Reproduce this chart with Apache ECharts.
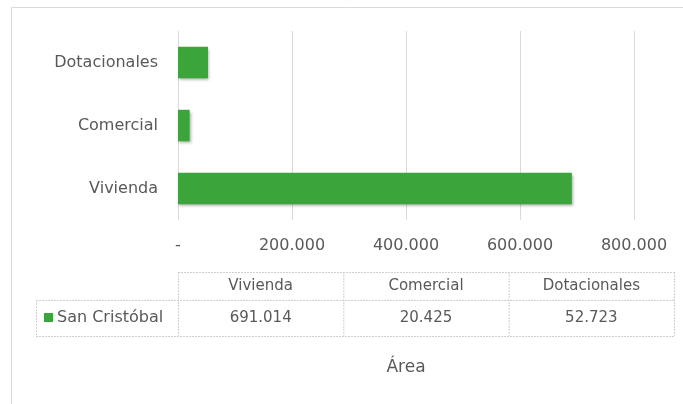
<!DOCTYPE html>
<html><head><meta charset="utf-8">
<script src="https://cdn.jsdelivr.net/npm/echarts@6/dist/echarts.min.js"></script>
<style>html,body{margin:0;padding:0;background:#fff}#c{width:683px;height:404px}</style>
</head><body><div id="c"></div>
<script>
var categories = ['Vivienda', 'Comercial', 'Dotacionales'];
var seriesName = 'San Cristóbal';
var values = [691014, 20425, 52723];
var axisTicks = [0, 200000, 400000, 600000, 800000];
var axisTitle = 'Área';

var FONT = 'DejaVu Sans';
var TXT = '#595959';
var GREEN = '#3BA53B';
function fmt(v){ if(v===0) return '-'; return String(v).replace(/\B(?=(\d{3})+(?!\d))/g,'.'); }

var chart = echarts.init(document.getElementById('c'), null, {renderer:'canvas'});

// table layout
var tblLeft = 178, tblRight = 674, legLeft = 36, hdrTop = 272, rowTop = 300, rowBot = 336;
var colW = (tblRight - tblLeft) / categories.length;
var g = [];
g.push({type:'rect', shape:{x:11.5,y:7.5,width:700,height:420}, style:{fill:'none', stroke:'#d9d9d9', lineWidth:1}, silent:true});
var bs = {stroke:'#d0d0d0', lineWidth:1, lineDash:[2,1]};
function hl(x1,x2,y){ g.push({type:'line', shape:{x1:x1,y1:y+0.5,x2:x2,y2:y+0.5}, style:bs}); }
function vl(x,y1,y2){ g.push({type:'line', shape:{x1:x+0.5,y1:y1,x2:x+0.5,y2:y2}, style:bs}); }
hl(tblLeft, tblRight, hdrTop);
hl(legLeft, tblRight, rowTop);
hl(legLeft, tblRight, rowBot);
vl(legLeft, rowTop, rowBot);
for (var i=0;i<=categories.length;i++) vl(tblLeft + i*colW, hdrTop, rowBot);
categories.forEach(function(c,i){
  var cx = tblLeft + (i+0.5)*colW;
  g.push({type:'text', x:cx, y:(hdrTop+rowTop)/2, style:{text:c, fill:TXT, font:'15px '+FONT, align:'center', verticalAlign:'middle'}});
  g.push({type:'text', x:cx, y:(rowTop+rowBot)/2, style:{text:fmt(values[i]), fill:TXT, font:'15px '+FONT, align:'center', verticalAlign:'middle'}});
});
g.push({type:'rect', shape:{x:44,y:313,width:9,height:9}, style:{fill:GREEN}});
g.push({type:'text', x:57, y:(rowTop+rowBot)/2, style:{text:seriesName, fill:TXT, font:'16px '+FONT, align:'left', verticalAlign:'middle'}});

chart.setOption({
  animation:false,
  grid:{left:178, right:49, top:31, height:189, containLabel:false},
  xAxis:{type:'value', min:axisTicks[0], max:axisTicks[axisTicks.length-1], interval:axisTicks[1]-axisTicks[0],
    axisLine:{show:false}, axisTick:{show:false},
    axisLabel:{formatter:fmt, color:TXT, fontFamily:FONT, fontSize:16, margin:18},
    splitLine:{lineStyle:{color:'#d9d9d9', width:1}},
    name:axisTitle, nameLocation:'middle', nameGap:139, nameTextStyle:{color:TXT, fontFamily:FONT, fontSize:17}},
  yAxis:{type:'category', data:categories, axisLine:{show:false}, axisTick:{show:false},
    axisLabel:{color:TXT, fontFamily:FONT, fontSize:16, margin:20}},
  series:[{type:'bar', name:seriesName, data:values, barWidth:'50%',
    itemStyle:{color:GREEN, shadowBlur:3, shadowColor:'rgba(0,0,0,0.35)', shadowOffsetX:1, shadowOffsetY:2}}],
  graphic:g
});
</script></body></html>
